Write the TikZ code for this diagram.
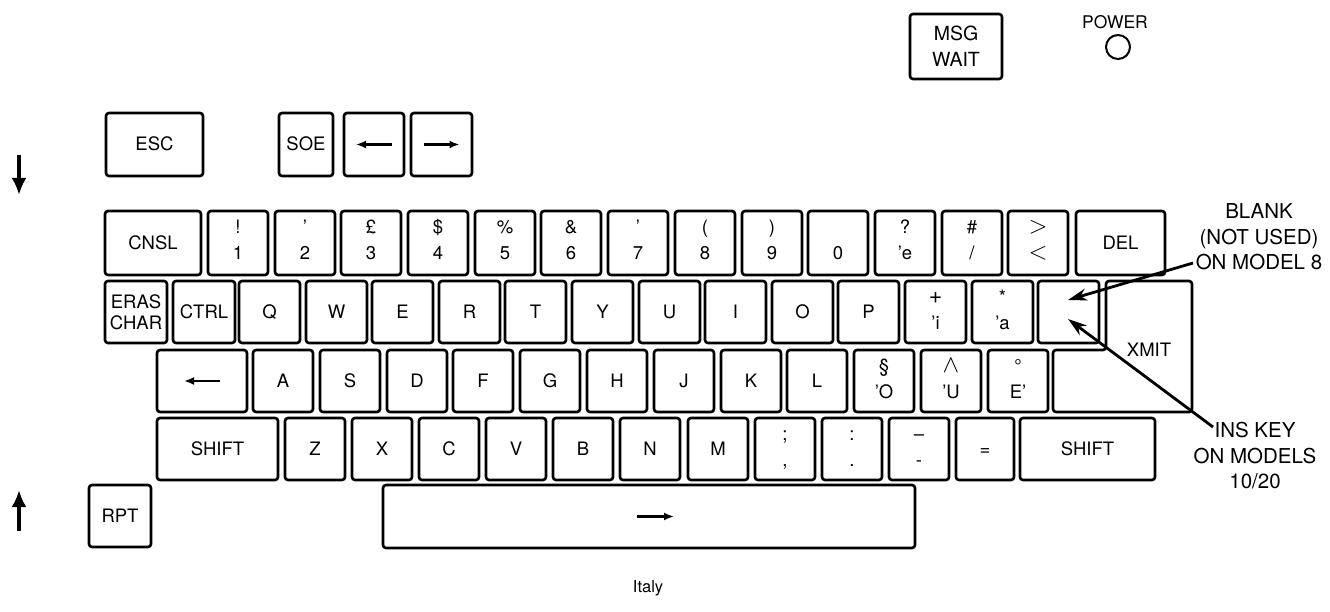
\documentclass[tikz,border=0pt]{standalone}
\usepackage{fontspec}
\setmainfont{TeX Gyre Heros}
\usetikzlibrary{arrows.meta}
\newcommand\kfont{\fontsize{18.5}{21}\selectfont}
\newcommand\afont{\fontsize{20.5}{25.5}\selectfont}
\newcommand\bigsym[1]{{\fontsize{23}{25}\selectfont #1}}
\tikzset{
  keybox/.style={draw, line width=2.6pt, rounded corners=3pt, inner sep=0pt, font=\kfont, text height=13pt, text depth=0pt},
  klab/.style={font=\kfont, inner sep=0pt, anchor=base},
  mlab/.style={font=\kfont, inner sep=0pt, align=center},
  anno/.style={font=\afont, inner sep=0pt, align=center},
  kar/.style={line width=2.8pt, -{Latex[length=10pt,width=8pt]}},
  bigar/.style={line width=4.2pt, -{Latex[length=17pt,width=15pt]}},
  callout/.style={line width=2.8pt, -{Stealth[length=19pt,width=12pt]}}
}
\newcommand\kb[5]{\node[keybox, minimum width={(#4-#2)*1pt}, minimum height={(#5-#3)*1pt}] (#1) at ({(#2+#4)/2},{(#3+#5)/2}) {};}
\newcommand\ks[6]{\node[keybox, minimum width={(#4-#2)*1pt}, minimum height={(#5-#3)*1pt}] (#1) at ({(#2+#4)/2},{(#3+#5)/2}) {#6};}
\newcommand\kt[7]{\kb{#1}{#2}{#3}{#4}{#5}%
  \node[klab] (#1-t) at ({(#2+#4)/2},{(#3+#5)/2-9}) {#6};%
  \node[klab] (#1-b) at ({(#2+#4)/2},{(#3+#5)/2+17}) {#7};}
\begin{document}
\begin{tikzpicture}[x=1pt,y=-1pt]
\fill[white] (0,0) rectangle (1330,612);
\useasboundingbox (0,0) rectangle (1330,612);

% top indicators
\node[keybox, minimum width=92pt, minimum height=65pt, text height=, text depth=, align=center, font=\fontsize{19.5}{26}\selectfont] (msg) at (956,46.5) {MSG\\WAIT};
\node[font=\fontsize{17.5}{20}\selectfont, inner sep=0pt] (power) at (1115,22) {POWER};
\node[draw, circle, line width=2pt, minimum size=24pt, inner sep=0pt] (lamp) at (1118,47) {};

% row 0
\ks{esc}{106}{113}{203}{176}{ESC}
\ks{soe}{279}{113}{333}{176}{SOE}
\kb{lft}{344}{113}{404}{176}
\kb{rgt}{411}{113}{472}{176}
\draw[kar] ([xshift=18pt]lft.center) -- ([xshift=-18pt]lft.center);
\draw[kar] ([xshift=-18pt]rgt.center) -- ([xshift=18pt]rgt.center);

% side arrows
\coordinate (dtop) at (19,155); \coordinate (dbot) at (19,195);
\draw[bigar] (dtop) -- (dbot);
\coordinate (ubot) at (19,531); \coordinate (utop) at (19,490);
\draw[bigar] (ubot) -- (utop);

% row 1
\ks{cnsl}{105}{211}{201}{275}{CNSL}
\kt{k1}{208}{211}{268}{275}{!}{1}
\kt{k2}{275}{211}{335}{275}{’}{2}
\kt{k3}{341}{211}{401}{275}{£}{3}
\kt{k4}{408}{211}{468}{275}{\$}{4}
\kt{k5}{475}{211}{535}{275}{\%}{5}
\kt{k6}{541}{211}{601}{275}{\&}{6}
\kt{k7}{608}{211}{668}{275}{’}{7}
\kt{k8}{675}{211}{735}{275}{(}{8}
\kt{k9}{742}{211}{802}{275}{)}{9}
\kt{k0}{808}{211}{868}{275}{}{0}
\kt{ke}{875}{211}{935}{275}{?}{’e}
\kt{ksl}{942}{211}{1002}{275}{\#}{/}
\kt{klt}{1008}{211}{1068}{275}{\bigsym{$>$}}{\bigsym{$<$}}
\ks{del}{1076}{211}{1165}{275}{DEL}

% row 2
\kb{eras}{105}{281}{167}{343}
\node[mlab] (eras-l) at (136,312) {ERAS\\CHAR};
\ks{ctrl}{173}{281}{235}{343}{CTRL}
\ks{q}{239}{281}{300}{343}{Q}
\ks{w}{306}{281}{367}{343}{W}
\ks{e}{372}{281}{433}{343}{E}
\ks{r}{439}{281}{500}{343}{R}
\ks{t}{505}{281}{566}{343}{T}
\ks{y}{572}{281}{633}{343}{Y}
\ks{u}{639}{281}{700}{343}{U}
\ks{i}{705}{281}{766}{343}{I}
\ks{o}{772}{281}{833}{343}{O}
\ks{p}{838}{281}{899}{343}{P}
\kt{ki}{905}{281}{966}{343}{\bigsym{+}}{’i}
\kt{ka}{972}{281}{1033}{343}{*}{’a}
\kb{blank}{1038}{281}{1099}{343}
\draw[line width=2.6pt, rounded corners=3pt] (1106,281) -- (1192,281) -- (1192,412) -- (1053,412) -- (1053,350) -- (1106,350) -- cycle;
\node[font=\kfont, inner sep=0pt] (xmit) at (1149,350) {XMIT};

% row 3
\kb{bs}{157}{350}{247}{412}
\draw[kar] ([xshift=18pt]bs.center) -- ([xshift=-18pt]bs.center);
\ks{a}{253}{350}{313}{412}{A}
\ks{s}{320}{350}{380}{412}{S}
\ks{d}{387}{350}{447}{412}{D}
\ks{f}{453}{350}{513}{412}{F}
\ks{g}{520}{350}{580}{412}{G}
\ks{h}{587}{350}{647}{412}{H}
\ks{j}{654}{350}{714}{412}{J}
\ks{k}{721}{350}{781}{412}{K}
\ks{l}{787}{350}{847}{412}{L}
\kt{ko}{854}{350}{914}{412}{§}{’O}
\kt{ku}{921}{350}{981}{412}{\bigsym{$\wedge$}}{’U}
\kt{kE}{988}{350}{1048}{412}{°}{E’}

% row 4
\ks{lshift}{157}{418}{278}{480}{SHIFT}
\ks{z}{285}{418}{345}{480}{Z}
\ks{x}{352}{418}{412}{480}{X}
\ks{c}{419}{418}{479}{480}{C}
\ks{v}{486}{418}{546}{480}{V}
\ks{b}{553}{418}{613}{480}{B}
\ks{n}{620}{418}{680}{480}{N}
\ks{m}{688}{418}{748}{480}{M}
\kt{ksc}{755}{418}{815}{480}{;}{,}
\kt{kco}{822}{418}{882}{480}{:}{.}
\kt{kmi}{889}{418}{949}{480}{–}{-}
\ks{keq}{956}{418}{1014}{480}{=}
\ks{rshift}{1020}{418}{1155}{480}{SHIFT}

% row 5
\ks{rpt}{89}{485}{151}{547}{RPT}
\kb{space}{383}{485}{915}{548}
\draw[kar] ([xshift=-12pt]space.center) -- ([xshift=25pt]space.center);

% annotations
\node[anno] (blanklbl) at (1259,237) {BLANK\\(NOT USED)\\ON MODEL 8};
\node[anno] (inslbl) at (1255,456) {INS KEY\\ON MODELS\\10/20};
\coordinate (blankfrom) at (1193,263); \coordinate (blanktip) at (1068,300);
\coordinate (insfrom) at (1213,427); \coordinate (instip) at (1068,319);
\draw[callout] (blankfrom) -- (blanktip);
\draw[callout] (insfrom) -- (instip);

\node[font=\fontsize{16.5}{19}\selectfont, inner sep=0pt] (italy) at (648,588) {Italy};
\end{tikzpicture}
\end{document}
